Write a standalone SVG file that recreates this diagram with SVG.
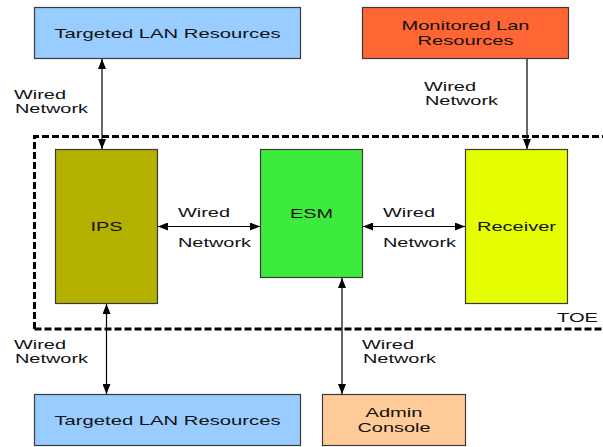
<svg xmlns="http://www.w3.org/2000/svg" width="603" height="447" viewBox="0 0 603 447">
<defs>
<style>
.box{stroke:#3a3a3a;stroke-width:1.2}
.t{font-family:"Liberation Sans",Arial,sans-serif;font-size:13.5px;fill:#111}
.c{text-anchor:middle}
.ln{stroke:#000;stroke-width:1.2;fill:none}
</style>
<marker id="ah" viewBox="0 0 10 8" refX="10" refY="4" markerWidth="10" markerHeight="8" markerUnits="userSpaceOnUse" orient="auto-start-reverse"><path d="M0,0 L10,4 L0,8 z" fill="#000"/></marker>
</defs>
<rect width="603" height="447" fill="#fff"/>
<g id="toe">
<path d="M34.5,329 L34.5,136.5 L603,136.5 M34.5,329 L603,329" fill="none" stroke="#000" stroke-width="3" stroke-dasharray="7,3"/>
<text class="t" x="557" y="322" textLength="41" lengthAdjust="spacingAndGlyphs">TOE</text>
</g>
<g id="targeted-top"><rect class="box" x="34.5" y="7.5" width="266" height="51" fill="#99ccff"/><text class="t c" x="167.5" y="38" textLength="226" lengthAdjust="spacingAndGlyphs">Targeted LAN Resources</text></g>
<g id="monitored"><rect class="box" x="362.5" y="7.5" width="206" height="51" fill="#ff6633"/><text class="t c" x="465.5" y="30" textLength="128" lengthAdjust="spacingAndGlyphs">Monitored Lan</text><text class="t c" x="465.5" y="45" textLength="96" lengthAdjust="spacingAndGlyphs">Resources</text></g>
<g id="ips"><rect class="box" x="55.5" y="149.5" width="102" height="154" fill="#b3b000"/><text class="t c" x="106.5" y="231" textLength="32" lengthAdjust="spacingAndGlyphs">IPS</text></g>
<g id="esm"><rect class="box" x="260.5" y="149.5" width="102" height="128" fill="#3deb3d"/><text class="t c" x="311.5" y="218" textLength="43" lengthAdjust="spacingAndGlyphs">ESM</text></g>
<g id="receiver"><rect class="box" x="465.5" y="149.5" width="102" height="154" fill="#e6ff00"/><text class="t c" x="516.5" y="231" textLength="79" lengthAdjust="spacingAndGlyphs">Receiver</text></g>
<g id="targeted-bottom"><rect class="box" x="34.5" y="394.5" width="266" height="51" fill="#99ccff"/><text class="t c" x="167.5" y="425" textLength="226" lengthAdjust="spacingAndGlyphs">Targeted LAN Resources</text></g>
<g id="admin"><rect class="box" x="322.5" y="394.5" width="143" height="51" fill="#ffcc99"/><text class="t c" x="394" y="417" textLength="57" lengthAdjust="spacingAndGlyphs">Admin</text><text class="t c" x="394" y="432" textLength="73" lengthAdjust="spacingAndGlyphs">Console</text></g>
<g id="connectors">
<line class="ln" x1="102" y1="59" x2="102" y2="149" marker-start="url(#ah)" marker-end="url(#ah)"/>
<line class="ln" x1="527" y1="59" x2="527" y2="149" marker-end="url(#ah)"/>
<line class="ln" x1="158" y1="226.5" x2="260" y2="226.5" marker-start="url(#ah)" marker-end="url(#ah)"/>
<line class="ln" x1="363" y1="226.5" x2="465" y2="226.5" marker-start="url(#ah)" marker-end="url(#ah)"/>
<line class="ln" x1="106.5" y1="304" x2="106.5" y2="394" marker-start="url(#ah)" marker-end="url(#ah)"/>
<line class="ln" x1="342" y1="278" x2="342" y2="394" marker-start="url(#ah)" marker-end="url(#ah)"/>
<text class="t" x="14" y="99" textLength="52" lengthAdjust="spacingAndGlyphs">Wired</text><text class="t" x="15" y="113" textLength="73" lengthAdjust="spacingAndGlyphs">Network</text>
<text class="t" x="424" y="91" textLength="52" lengthAdjust="spacingAndGlyphs">Wired</text><text class="t" x="425" y="105" textLength="73" lengthAdjust="spacingAndGlyphs">Network</text>
<text class="t" x="178" y="217" textLength="52" lengthAdjust="spacingAndGlyphs">Wired</text><text class="t" x="178" y="247" textLength="73" lengthAdjust="spacingAndGlyphs">Network</text>
<text class="t" x="383" y="217" textLength="52" lengthAdjust="spacingAndGlyphs">Wired</text><text class="t" x="383" y="247" textLength="73" lengthAdjust="spacingAndGlyphs">Network</text>
<text class="t" x="14" y="349" textLength="52" lengthAdjust="spacingAndGlyphs">Wired</text><text class="t" x="15" y="363" textLength="73" lengthAdjust="spacingAndGlyphs">Network</text>
<text class="t" x="362" y="349" textLength="52" lengthAdjust="spacingAndGlyphs">Wired</text><text class="t" x="363" y="363" textLength="73" lengthAdjust="spacingAndGlyphs">Network</text>
</g>
</svg>
